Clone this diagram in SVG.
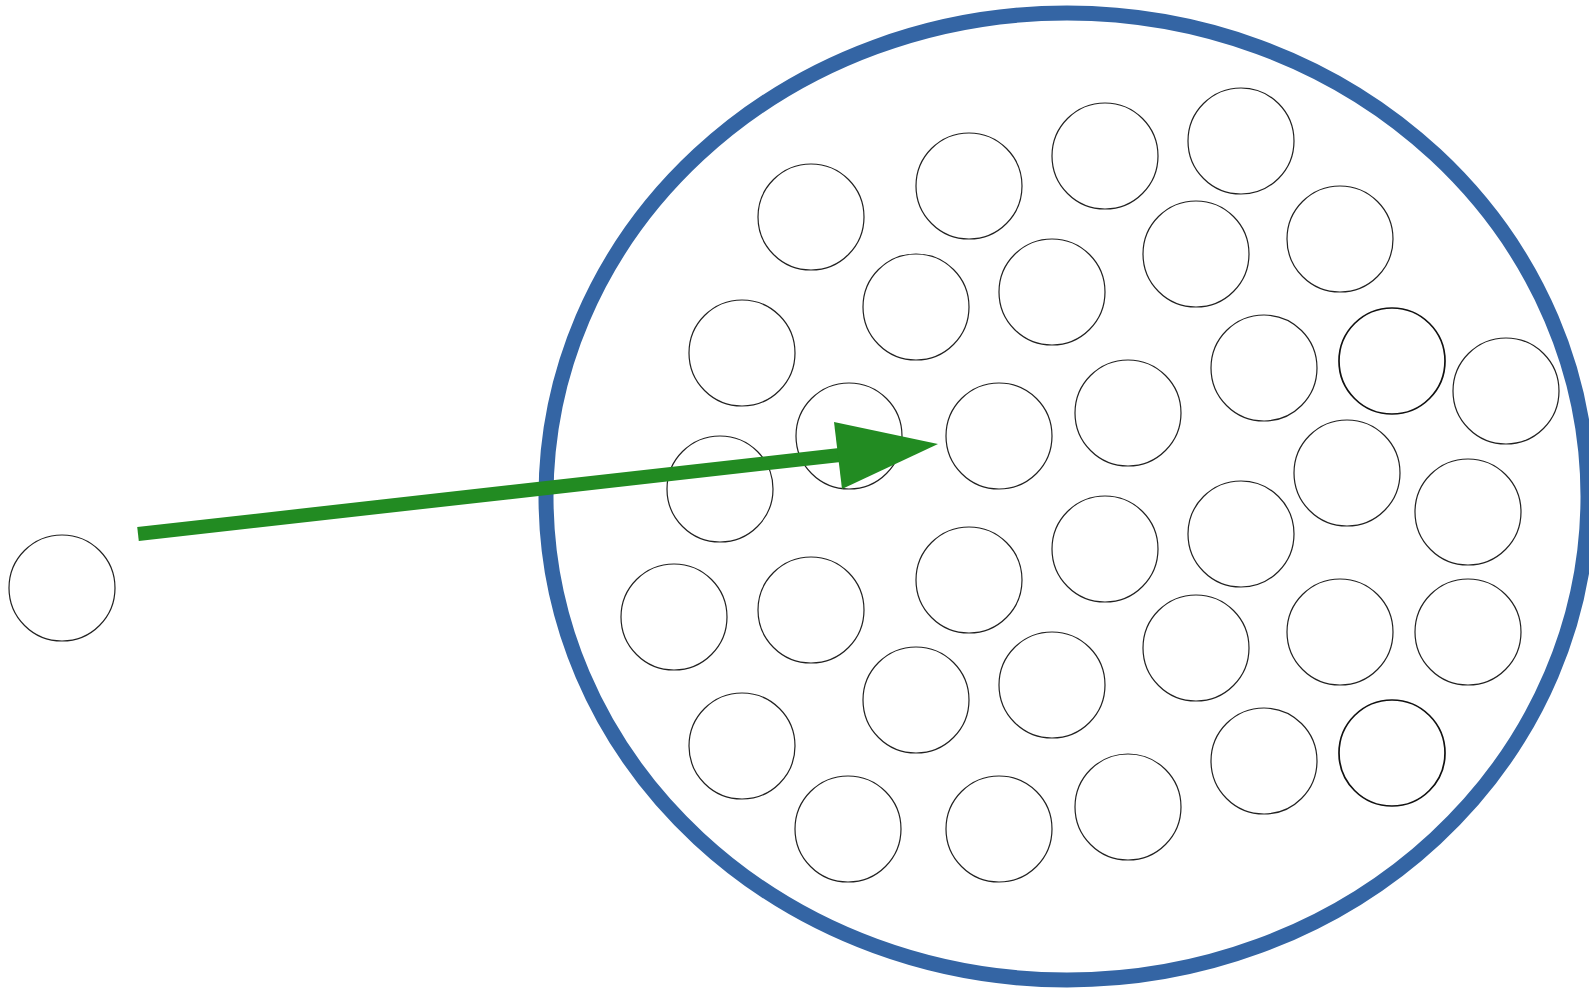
<svg xmlns="http://www.w3.org/2000/svg" width="1589" height="989" viewBox="0 0 1589 989">
<style>
.p{fill:none;stroke:#222;stroke-width:1.2}
.pb{fill:none;stroke:#111;stroke-width:1.7}
.cell{fill:none;stroke:#3465a4;stroke-width:15}
.arr{stroke:#228b22;stroke-width:14;fill:none}
.head{fill:#228b22}
</style>
<rect width="1589" height="989" fill="#fff"/>
<g id="boundary"><ellipse class="cell" cx="1067" cy="496.5" rx="521" ry="483.5"/></g>
<g id="particles">
<circle id="n1" class="p" cx="811" cy="217" r="53"/>
<circle id="n2" class="p" cx="969" cy="186" r="53"/>
<circle id="n3" class="p" cx="1105" cy="156" r="53"/>
<circle id="n4" class="p" cx="1241" cy="141" r="53"/>
<circle id="n5" class="p" cx="1196" cy="254" r="53"/>
<circle id="n6" class="p" cx="1340" cy="239" r="53"/>
<circle id="n7" class="p" cx="916" cy="307" r="53"/>
<circle id="n8" class="p" cx="1052" cy="292" r="53"/>
<circle id="n9" class="p" cx="742" cy="353" r="53"/>
<circle id="n10" class="p" cx="1264" cy="368" r="53"/>
<circle id="n11" class="pb" cx="1392" cy="361" r="53"/>
<circle id="n12" class="p" cx="1506" cy="391" r="53"/>
<circle id="n13" class="p" cx="849" cy="436" r="53"/>
<circle id="n14" class="p" cx="999" cy="436" r="53"/>
<circle id="n15" class="p" cx="1128" cy="413" r="53"/>
<circle id="n16" class="p" cx="720" cy="489" r="53"/>
<circle id="n17" class="p" cx="1347" cy="473" r="53"/>
<circle id="n18" class="p" cx="1468" cy="512" r="53"/>
<circle id="n19" class="p" cx="1241" cy="534" r="53"/>
<circle id="n20" class="p" cx="1105" cy="549" r="53"/>
<circle id="n21" class="p" cx="969" cy="580" r="53"/>
<circle id="n22" class="p" cx="674" cy="617" r="53"/>
<circle id="n23" class="p" cx="811" cy="610" r="53"/>
<circle id="n24" class="p" cx="1196" cy="648" r="53"/>
<circle id="n25" class="p" cx="1340" cy="632" r="53"/>
<circle id="n26" class="p" cx="1468" cy="632" r="53"/>
<circle id="n27" class="p" cx="916" cy="700" r="53"/>
<circle id="n28" class="p" cx="1052" cy="685" r="53"/>
<circle id="n29" class="p" cx="742" cy="746" r="53"/>
<circle id="n30" class="p" cx="1264" cy="761" r="53"/>
<circle id="n31" class="pb" cx="1392" cy="753" r="53"/>
<circle id="n32" class="p" cx="848" cy="829" r="53"/>
<circle id="n33" class="p" cx="999" cy="829" r="53"/>
<circle id="n34" class="p" cx="1128" cy="807" r="53"/>
</g>
<g id="outside"><circle id="n0" class="p" cx="62" cy="588" r="53"/></g>
<g id="connectors">
<line class="arr" x1="138" y1="534" x2="840" y2="455"/>
<polygon class="head" points="834,422 938,444 842,489"/>
</g>
</svg>
